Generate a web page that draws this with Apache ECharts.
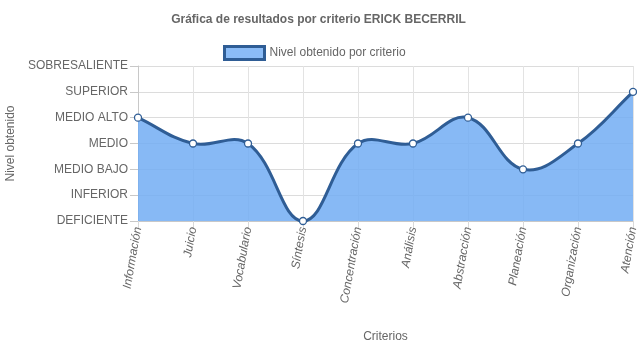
<!DOCTYPE html>
<html><head><meta charset="utf-8">
<script src="https://cdn.jsdelivr.net/npm/echarts@6/dist/echarts.min.js"></script>
<style>html,body{margin:0;padding:0;background:#fff}#c{width:637px;height:348px}</style>
</head><body><div id="c"></div>
<script>
var levels = ['DEFICIENTE','INFERIOR','MEDIO BAJO','MEDIO','MEDIO ALTO','SUPERIOR','SOBRESALIENTE'];
var categories = ['Información','Juicio','Vocabulario','Síntesis','Concentración','Análisis','Abstracción','Planeación','Organización','Atención'];
var results = ['MEDIO ALTO','MEDIO','MEDIO','DEFICIENTE','MEDIO','MEDIO','MEDIO ALTO','MEDIO BAJO','MEDIO','SUPERIOR'];
var values = results.map(function(r){return levels.indexOf(r);});
var font = 'Arial, "Liberation Sans", Helvetica, sans-serif';
var lineColor = '#2f5d95', fillColor = 'rgba(114,173,243,0.85)';
var tension = 0.4;

function renderItem(params, api){
  var cs = params.coordSys;
  var n = values.length;
  var idx = params.dataIndex;
  var own = api.coord([idx, values[idx]]);
  var circle = {type:'circle',shape:{cx:own[0],cy:own[1],r:3.5},
      style:{fill:'#fff',stroke:lineColor,lineWidth:1.3},z2:10};
  if (idx !== 0) return circle;
  var pts = values.map(function(v,i){return api.coord([i,v]);});
  var top = cs.y, bottom = cs.y + cs.height, left = cs.x, right = cs.x + cs.width;
  var clamp = function(x,y){return [Math.min(Math.max(x,left),right),Math.min(Math.max(y,top),bottom)];};
  var cps = pts.map(function(cur,i){
    var prev = pts[i-1]||cur, next = pts[i+1]||cur;
    var d01 = Math.hypot(cur[0]-prev[0],cur[1]-prev[1]);
    var d12 = Math.hypot(next[0]-cur[0],next[1]-cur[1]);
    var s01 = d01/(d01+d12)||0, s12 = d12/(d01+d12)||0;
    var fa = tension*s01, fb = tension*s12;
    return {
      prev:clamp(cur[0]-fa*(next[0]-prev[0]), cur[1]-fa*(next[1]-prev[1])),
      next:clamp(cur[0]+fb*(next[0]-prev[0]), cur[1]+fb*(next[1]-prev[1]))
    };
  });
  var d = 'M' + pts[0][0] + ' ' + pts[0][1];
  for (var i=1;i<n;i++){
    d += ' C' + cps[i-1].next[0] + ' ' + cps[i-1].next[1] + ' ' + cps[i].prev[0] + ' ' + cps[i].prev[1] + ' ' + pts[i][0] + ' ' + pts[i][1];
  }
  var area = d + ' L' + pts[n-1][0] + ' ' + bottom + ' L' + pts[0][0] + ' ' + bottom + ' Z';
  return {type:'group',children:[
    {type:'path',shape:{pathData:area},style:{fill:fillColor,stroke:null},z2:1},
    {type:'path',shape:{pathData:d},style:{fill:null,stroke:lineColor,lineWidth:3},z2:2},
    circle
  ]};
}

var chart = echarts.init(document.getElementById('c'));
chart.setOption({
  animation:false,
  title:{text:'Gráfica de resultados por criterio ERICK BECERRIL',left:'center',top:9,
    textStyle:{fontFamily:font,fontSize:12,fontWeight:'bold',color:'#666'}},
  legend:{top:40,left:218,itemWidth:40,itemHeight:13,itemGap:6,
    textStyle:{fontFamily:font,fontSize:12,color:'#666'},
    data:[{name:'Nivel obtenido por criterio',icon:'rect',itemStyle:{color:'#8bbcf7',borderColor:lineColor,borderWidth:3}}]},
  grid:{left:138,right:4,top:66,bottom:127,outerBoundsMode:'none',containLabel:false},
  xAxis:{type:'category',data:categories,boundaryGap:false,
    name:'Criterios',nameLocation:'middle',nameGap:110,
    nameTextStyle:{fontFamily:font,fontSize:12,color:'#666'},
    axisLine:{lineStyle:{color:'#c8c8c8'}},
    axisTick:{show:true,length:8,alignWithLabel:true,lineStyle:{color:'#d9d9d9'}},
    splitLine:{show:true,lineStyle:{color:'#e3e3e3'}},
    axisLabel:{rotate:80,fontStyle:'italic',fontFamily:font,fontSize:12,color:'#666',margin:6}},
  yAxis:{type:'value',min:0,max:6,interval:1,
    name:'Nivel obtenido',nameLocation:'middle',nameGap:117,
    nameTextStyle:{fontFamily:font,fontSize:12,color:'#666'},
    axisLine:{show:true,lineStyle:{color:'#c8c8c8'}},
    axisTick:{show:true,length:8,lineStyle:{color:'#c8c8c8'}},
    splitLine:{show:true,lineStyle:{color:'#dcdcdc'}},
    axisLabel:{fontFamily:font,fontSize:12,color:'#666',margin:10,
      formatter:function(v){return levels[v]||'';}}},
  series:[{name:'Nivel obtenido por criterio',type:'custom',coordinateSystem:'cartesian2d',
    data:values.map(function(v,i){return [i,v];}),
    encode:{x:0,y:1},
    itemStyle:{color:'#8bbcf7',borderColor:lineColor},
    renderItem:renderItem}]
});
</script></body></html>
